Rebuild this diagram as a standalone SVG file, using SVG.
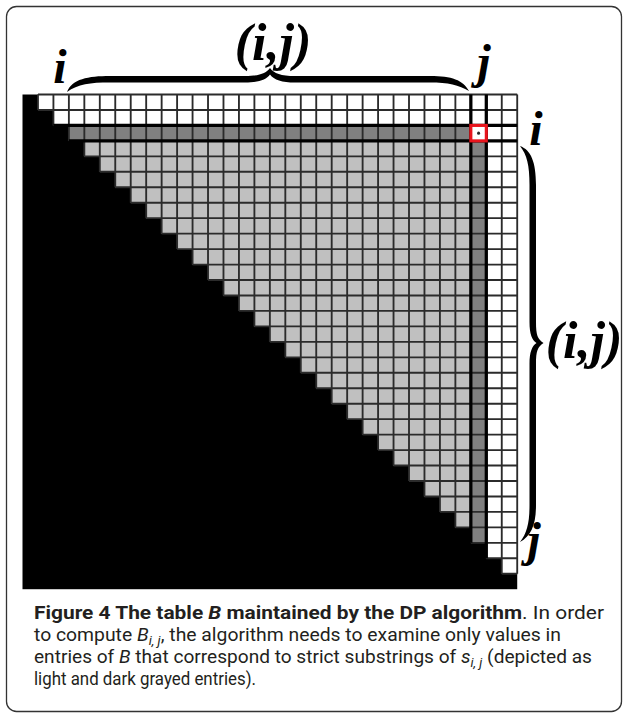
<svg xmlns="http://www.w3.org/2000/svg" width="624" height="713" viewBox="0 0 624 713">
<style>
.lbl{font-family:"Liberation Serif","DejaVu Serif","Times New Roman",serif;font-weight:700;font-style:italic;fill:#000;text-anchor:middle}
.cap{font-family:Roboto,"Open Sans",sans-serif;font-size:17.5px;fill:#231f20}
.b{font-weight:bold}
.it{font-style:italic}
.sub{font-size:12px;font-style:italic}
.grid{fill:none;stroke:#2b2b2b;stroke-width:0.12}
.thick{fill:none;stroke:#000;stroke-width:0.21}
.brace{fill:#000}
</style>
<rect x="6.5" y="6.5" width="615" height="705" rx="10" fill="#fff" stroke="#333" stroke-width="1.3"/>

<g id="table" transform="translate(22.5,94.5) scale(15.46)">
  <rect x="0" y="0" width="32" height="32" fill="#000"/>
  <polygon id="white-cells" fill="#fff" points="1,0 32,0 32,31 31,31 31,30 30,30 30,29 29,29 29,28 28,28 28,27 27,27 27,26 26,26 26,25 25,25 25,24 24,24 24,23 23,23 23,22 22,22 22,21 21,21 21,20 20,20 20,19 19,19 19,18 18,18 18,17 17,17 17,16 16,16 16,15 15,15 15,14 14,14 14,13 13,13 13,12 12,12 12,11 11,11 11,10 10,10 10,9 9,9 9,8 8,8 8,7 7,7 7,6 6,6 6,5 5,5 5,4 4,4 4,3 3,3 3,2 2,2 2,1 1,1"/>
  <polygon id="light-gray-cells" fill="#c0c0c0" points="4,3 29,3 29,28 28,28 28,27 27,27 27,26 26,26 26,25 25,25 25,24 24,24 24,23 23,23 23,22 22,22 22,21 21,21 21,20 20,20 20,19 19,19 19,18 18,18 18,17 17,17 17,16 16,16 16,15 15,15 15,14 14,14 14,13 13,13 13,12 12,12 12,11 11,11 11,10 10,10 10,9 9,9 9,8 8,8 8,7 7,7 7,6 6,6 6,5 5,5 5,4 4,4"/>
  <rect id="row-i" x="3" y="2" width="26" height="1" fill="#808080"/>
  <rect id="col-j" x="29" y="3" width="1" height="26" fill="#808080"/>
  <path class="grid" d="M1,0H32 M1,1H32 M2,2H32 M3,3H32 M4,4H32 M5,5H32 M6,6H32 M7,7H32 M8,8H32 M9,9H32 M10,10H32 M11,11H32 M12,12H32 M13,13H32 M14,14H32 M15,15H32 M16,16H32 M17,17H32 M18,18H32 M19,19H32 M20,20H32 M21,21H32 M22,22H32 M23,23H32 M24,24H32 M25,25H32 M26,26H32 M27,27H32 M28,28H32 M29,29H32 M30,30H32 M31,31H32
  M1,0V1 M2,0V2 M3,0V3 M4,0V4 M5,0V5 M6,0V6 M7,0V7 M8,0V8 M9,0V9 M10,0V10 M11,0V11 M12,0V12 M13,0V13 M14,0V14 M15,0V15 M16,0V16 M17,0V17 M18,0V18 M19,0V19 M20,0V20 M21,0V21 M22,0V22 M23,0V23 M24,0V24 M25,0V25 M26,0V26 M27,0V27 M28,0V28 M29,0V29 M30,0V30 M31,0V31 M32,0V31"/>
  <path class="thick" d="M2,2H32 M3,3H32 M29,0V29 M30,0V30"/>
  <rect id="cell-ij" x="29" y="2" width="1" height="1" fill="#fff" stroke="#e8141c" stroke-width="0.2"/>
  <circle cx="29.5" cy="2.5" r="0.1" fill="#2a2a2a"/>
</g>

<g id="top-brace">
  <path class="brace" d="M67,92 C72,79 88,76 110,76 L245,76 C259,76 266,73.5 270,68 C274,73.5 281,76 295,76 L430,76 C452,76 463,80 469,91 C459,85 448,82.5 430,82.5 L295,82.5 C282,82.5 274,80 270,74.5 C266,80 258,82.5 245,82.5 L110,82.5 C90,82.5 78,84 67,92 Z"/>
  <text class="lbl" x="273" y="60" font-size="52">(i,j)</text>
</g>
<g id="right-brace">
  <path class="brace" d="M520,146 C531,150 536,162 536,185 L536,322 C536,335 537.5,339 543.5,343 C537.5,347 536,351 536,364 L536,505 C536,525 531,536 520,542 C527,533 529.5,523 529.5,505 L529.5,364 C529.5,352 532,346 536.5,343 C532,340 529.5,334 529.5,322 L529.5,185 C529.5,165 527,155 520,146 Z"/>
  <text class="lbl" x="584" y="358" font-size="52">(i,j)</text>
</g>
<g id="labels">
  <text class="lbl" x="60" y="83" font-size="48">i</text>
  <text class="lbl" x="484" y="78" font-size="48">j</text>
  <text class="lbl" x="536" y="145" font-size="48">i</text>
  <text class="lbl" x="534" y="556" font-size="48">j</text>
</g>

<g id="caption">
  <text class="cap" x="34" y="619" textLength="570" lengthAdjust="spacingAndGlyphs"><tspan class="b">Figure 4 The table </tspan><tspan class="b it">B</tspan><tspan class="b"> maintained by the DP algorithm</tspan>. In order</text>
  <text class="cap" x="34" y="641" textLength="527" lengthAdjust="spacingAndGlyphs">to compute <tspan class="it">B</tspan><tspan class="sub" dy="4">i, j</tspan><tspan dy="-4">, the algorithm needs to examine only values in</tspan></text>
  <text class="cap" x="34" y="663" textLength="558" lengthAdjust="spacingAndGlyphs">entries of <tspan class="it">B</tspan> that correspond to strict substrings of <tspan class="it">s</tspan><tspan class="sub" dy="4">i, j</tspan><tspan dy="-4"> (depicted as</tspan></text>
  <text class="cap" x="34" y="685" textLength="222" lengthAdjust="spacingAndGlyphs">light and dark grayed entries).</text>
</g>
</svg>
